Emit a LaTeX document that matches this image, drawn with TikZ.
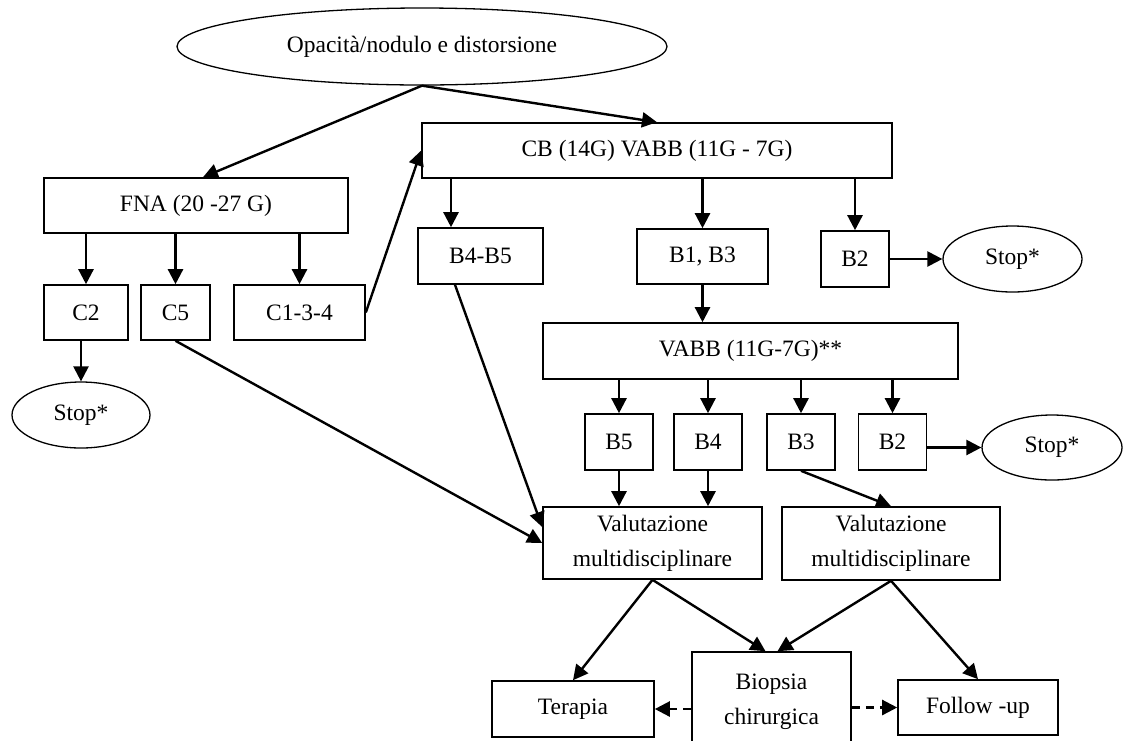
\documentclass[tikz,border=0pt]{standalone}
\usepackage{fontspec}
\setmainfont{Liberation Serif}
\usetikzlibrary{positioning, arrows.meta, shapes.geometric}

\begin{document}
\begin{tikzpicture}
	[x=1pt, y=-1pt, on grid,
	 font=\fontsize{23.5}{35}\selectfont,
	 box/.style={draw, rectangle, line width=1.6pt, inner sep=0pt, minimum height=55pt, align=center},
	 oval/.style={draw, ellipse, line width=1.3pt, inner sep=0pt},
	 arr/.style={-{Triangle[length=15pt,width=15pt]}, line width=2.4pt},
	 dash arr/.style={arr, dash pattern=on 8pt off 6pt}]
   \useasboundingbox (0,0) rectangle (1123,740);
   \node[oval, minimum width=490pt, minimum height=77pt] (op) at (422,46.5) {Opacità/nodulo e distorsione};
   \node[box, minimum width=470pt] (cb) [below right=104pt and 235pt of op] {CB (14G) VABB (11G - 7G)};
   \node[box, minimum width=304pt] (fna) [below left=159pt and 226pt of op] {FNA (20 -27 G)};
   \node[box, minimum width=84pt] (c2) [below left=107pt and 110pt of fna] {C2};
   \node[box, minimum width=69pt] (c5) [below left=107pt and 20.5pt of fna] {C5};
   \node[box, minimum width=131pt] (c134) [below right=107pt and 103.5pt of fna] {C1-3-4};
   \node[oval, minimum width=138pt, minimum height=66pt] (stopa) [below left=102.5pt and 5pt of c2] {Stop*};
   \node[box, minimum width=125pt, minimum height=56pt] (b45) [below left=105.5pt and 176.5pt of cb] {B4-B5};
   \node[box, minimum width=131pt] (b13) [below right=106pt and 45.5pt of cb] {B1, B3};
   \node[box, minimum width=68pt, minimum height=56pt] (b2a) [below right=108.5pt and 198pt of cb] {B2};
   \node[oval, minimum width=139pt, minimum height=66pt] (stopb) [right=157.5pt of b2a] {Stop*};
   \node[box, minimum width=415pt, minimum height=56pt] (vabb) [below right=94.5pt and 48pt of b13] {VABB (11G-7G)**};
   \node[box, minimum width=68pt, minimum height=56pt] (b5) [below left=91pt and 131.5pt of vabb] {B5};
   \node[box, minimum width=68pt, minimum height=56pt] (b4) [below left=91pt and 42.5pt of vabb] {B4};
   \node[box, minimum width=68pt, minimum height=56pt] (b3) [below right=91pt and 50.5pt of vabb] {B3};
   \node[box, minimum width=68pt, minimum height=56pt] (b2b) [below right=91pt and 142pt of vabb] {B2};
   \node[oval, minimum width=140pt, minimum height=65pt] (stopc) [below right=5.5pt and 159.5pt of b2b] {Stop*};
   \node[box, minimum width=219pt, minimum height=72pt] (val1) [below right=101pt and 33.5pt of b5] {Valutazione\\multidisciplinare};
   \node[box, minimum width=218pt, minimum height=73pt] (val2) [below right=101.5pt and 90pt of b3] {Valutazione\\multidisciplinare};
   \node[box, minimum width=162pt, minimum height=56pt] (terapia) [below left=166pt and 79.5pt of val1] {Terapia};
   \node[box, minimum width=159pt, minimum height=100pt] (biopsia) [below right=159pt and 119pt of val1] {Biopsia\\chirurgica};
   \node[box, minimum width=160pt] (followup) [below right=164pt and 87pt of val2] {Follow -up};
   \coordinate (b45in) at ([xshift=-29.5pt]b45.north);
   \coordinate (b45out) at ([xshift=-25.5pt]b45.south);
       \path[arr]
    (op.south)
          edge ([xshift=7pt]fna.north)
          edge (cb.north)
    (c2.north |- fna.south) edge (c2.north)
    (c5.north |- fna.south) edge (c5.north)
    (c134.north |- fna.south) edge (c134.north)
    (stopa.north |- c2.south) edge (stopa.north)
    (c134.east) edge (cb.west)
    (c5.south) edge (val1.west)

    (b45in |- cb.south) edge (b45in)
    (b13.north |- cb.south) edge (b13.north)
    (b2a.north |- cb.south) edge (b2a.north)
    (b2a.east) edge (stopb.west)
    (b45out) edge ([yshift=16pt]val1.west)
    (b13.south) edge (b13.south |- vabb.north)

    (b5.north |- vabb.south) edge (b5.north)
    (b4.north |- vabb.south) edge (b4.north)
    (b3.north |- vabb.south) edge (b3.north)
    (b2b.north |- vabb.south) edge (b2b.north)
    (stopc.west -| b2b.east) edge (stopc.west)
    (b5.south) edge (b5.south |- val1.north)
    (b4.south) edge (b4.south |- val1.north)
    (b3.south) edge (val2.north)

    (val1.south) edge (terapia.north)
          edge ([xshift=-6pt]biopsia.north)
    (val2.south) edge ([xshift=6pt]biopsia.north)
          edge (followup.north);
       \path[dash arr]
    (terapia.east -| biopsia.west) edge (terapia.east)
    (followup.west -| biopsia.east) edge (followup.west);
\end{tikzpicture}
\end{document}
